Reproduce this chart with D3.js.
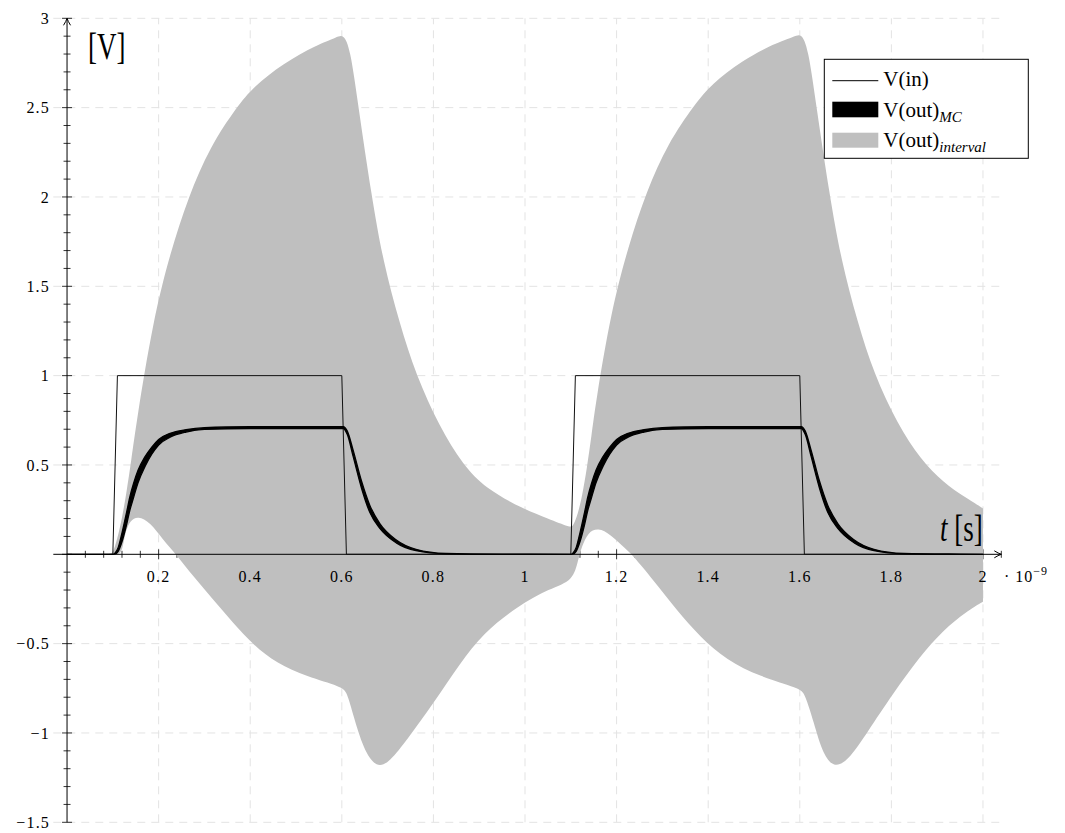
<!DOCTYPE html>
<html>
<head>
<meta charset="utf-8">
<script src="https://cdn.jsdelivr.net/npm/d3@7"></script>
<style>
  body { margin: 0; background: #fff; }
  svg text { font-family: "Liberation Serif", "Times New Roman", serif; fill: #000; }
</style>
</head>
<body>
<div id="chart"></div>
<script>
// Input pulse V(in), time in ns
var vinT = [0, 0.1, 0.11, 0.6, 0.61, 1.1, 1.11, 1.6, 1.61, 2.0];
var vinV = [0, 0, 1, 1, 0, 0, 1, 1, 0, 0];

// Monte Carlo bundle of V(out): lower and upper edge of the black band
var mcT = [0, 0.1, 0.105, 0.112, 0.12, 0.13, 0.137, 0.145, 0.155, 0.17, 0.185, 0.2, 0.225, 0.26, 0.3, 0.4,
  0.603, 0.612, 0.625, 0.643, 0.661, 0.683, 0.719, 0.762, 0.827, 0.95, 1.1,
  1.105, 1.112, 1.12, 1.13, 1.137, 1.145, 1.155, 1.17, 1.185, 1.2, 1.225, 1.26, 1.3, 1.4,
  1.603, 1.612, 1.625, 1.643, 1.661, 1.683, 1.719, 1.762, 1.827, 1.95, 2.0];
var mcHi = [0, 0, 0.008, 0.04, 0.12, 0.235, 0.32, 0.395, 0.47, 0.545, 0.6, 0.643, 0.677, 0.698, 0.709, 0.714,
  0.715, 0.69, 0.58, 0.41, 0.275, 0.172, 0.08, 0.028, 0.005, 0.001, 0,
  0.008, 0.04, 0.12, 0.235, 0.32, 0.395, 0.47, 0.545, 0.6, 0.643, 0.677, 0.698, 0.709, 0.714,
  0.715, 0.69, 0.58, 0.41, 0.275, 0.172, 0.08, 0.028, 0.005, 0.001, 0];
var mcLo = [0, 0, 0.002, 0.018, 0.07, 0.165, 0.245, 0.315, 0.4, 0.49, 0.56, 0.612, 0.655, 0.684, 0.699, 0.704,
  0.704, 0.67, 0.545, 0.37, 0.235, 0.145, 0.064, 0.02, 0.003, 0, 0,
  0.002, 0.018, 0.07, 0.165, 0.245, 0.315, 0.4, 0.49, 0.56, 0.612, 0.655, 0.684, 0.699, 0.704,
  0.704, 0.67, 0.545, 0.37, 0.235, 0.145, 0.064, 0.02, 0.003, 0, 0];

// Interval enclosure of V(out): upper bound
var upT = [0, 0.09, 0.1, 0.11, 0.12, 0.13, 0.14, 0.152, 0.188, 0.225, 0.265, 0.312, 0.371, 0.407, 0.472, 0.545,
  0.59, 0.603, 0.618, 0.636, 0.665, 0.69, 0.726, 0.762, 0.813, 0.864, 0.914, 0.997, 1.05, 1.1,
  1.105, 1.115, 1.125, 1.135, 1.145, 1.155, 1.188, 1.225, 1.265, 1.312, 1.371, 1.407, 1.472, 1.545,
  1.59, 1.603, 1.618, 1.636, 1.665, 1.69, 1.726, 1.762, 1.813, 1.864, 1.914, 1.96, 2.0];
var upV = [0, 0, 0, 0.09, 0.2, 0.35, 0.52, 0.75, 1.31, 1.685, 2.0, 2.28, 2.505, 2.617, 2.748, 2.851,
  2.895, 2.91, 2.84, 2.507, 2.006, 1.64, 1.293, 1.004, 0.715, 0.503, 0.368, 0.253, 0.2, 0.148,
  0.16, 0.22, 0.33, 0.48, 0.66, 0.86, 1.36, 1.72, 2.03, 2.3, 2.52, 2.63, 2.76, 2.86,
  2.9, 2.915, 2.84, 2.51, 2.01, 1.65, 1.3, 1.01, 0.73, 0.53, 0.4, 0.32, 0.257];

// Interval enclosure of V(out): lower bound
var loT = [0, 0.09, 0.1, 0.118, 0.123, 0.128, 0.138, 0.155, 0.181, 0.21, 0.238, 0.276, 0.32, 0.363, 0.407, 0.458,
  0.523, 0.6, 0.611, 0.625, 0.647, 0.676, 0.705, 0.742, 0.8, 0.858, 0.909, 0.982, 1.055, 1.105,
  1.116, 1.124, 1.138, 1.16, 1.186, 1.222, 1.233, 1.28, 1.331, 1.382, 1.44, 1.513, 1.6, 1.611,
  1.63, 1.651, 1.677, 1.71, 1.746, 1.804, 1.862, 1.913, 1.964, 2.0];
var loV = [0, 0, 0, 0, 0.06, 0.13, 0.19, 0.215, 0.18, 0.08, 0, -0.125, -0.256, -0.386, -0.508, -0.61,
  -0.685, -0.741, -0.77, -0.9, -1.09, -1.2, -1.16, -1.039, -0.834, -0.61, -0.442, -0.293, -0.19, -0.15,
  -0.03, 0.043, 0.125, 0.148, 0.112, 0.024, 0, -0.144, -0.312, -0.461, -0.592, -0.685, -0.75, -0.78,
  -0.935, -1.125, -1.2, -1.14, -1.002, -0.778, -0.573, -0.424, -0.321, -0.265];

// Tick values and labels
var xTicks = [0.2, 0.4, 0.6, 0.8, 1, 1.2, 1.4, 1.6, 1.8, 2];
var xTickLabels = ["0.2", "0.4", "0.6", "0.8", "1", "1.2", "1.4", "1.6", "1.8", "2"];
var yTicks = [-1.5, -1, -0.5, 0.5, 1, 1.5, 2, 2.5, 3];
var yTickLabels = ["\u22121.5", "\u22121", "\u22120.5", "0.5", "1", "1.5", "2", "2.5", "3"];
var legendLabels = ["V(in)", "V(out)", "V(out)"];
var legendSubs = ["", "MC", "interval"];

var width = 1065;
var height = 833;

var svg = d3.select("#chart")
  .append("svg")
  .attr("width", width)
  .attr("height", height);

var x = d3.scaleLinear().domain([-0.03, 2.04]).range([53.3, 1001.3]);
var y = d3.scaleLinear().domain([-1.5, 3]).range([822.3, 18.3]);

// grid
var grid = svg.append("g")
  .attr("stroke", "#e3e3e3")
  .attr("stroke-width", 1)
  .attr("stroke-dasharray", "8,6");

grid.selectAll(".vgrid")
  .data(xTicks)
  .enter().append("line")
  .attr("x1", function(d) { return x(d); })
  .attr("x2", function(d) { return x(d); })
  .attr("y1", y(-1.5))
  .attr("y2", y(3));

grid.selectAll(".hgrid")
  .data(yTicks)
  .enter().append("line")
  .attr("x1", x(-0.03))
  .attr("x2", x(2.04))
  .attr("y1", function(d) { return y(d); })
  .attr("y2", function(d) { return y(d); });

// x ticks (drawn under the band, like the original)
var xMinor = d3.range(1, 52).map(function(i) { return i * 0.04; });
svg.append("g")
  .attr("stroke", "#000")
  .attr("stroke-width", 0.8)
  .selectAll("line")
  .data(xMinor)
  .enter().append("line")
  .attr("x1", function(d) { return x(d); })
  .attr("x2", function(d) { return x(d); })
  .attr("y1", function(d, i) { return y(0) - ((i + 1) % 5 === 0 ? 5 : 3.5); })
  .attr("y2", function(d, i) { return y(0) + ((i + 1) % 5 === 0 ? 5 : 3.5); });

// interval band: upper bound forward, lower bound back
var upPts = upT.map(function(t, i) { return [t, upV[i]]; });
var loPts = loT.map(function(t, i) { return [t, loV[i]]; }).reverse();
var bandLine = d3.line()
  .x(function(d) { return x(d[0]); })
  .y(function(d) { return y(d[1]); })
  .curve(d3.curveBasis);

svg.append("path")
  .attr("d", bandLine(upPts) + "L" + bandLine(loPts).slice(1) + "Z")
  .attr("fill", "#bfbfbf")
  .attr("stroke", "none");

// y ticks
var yMinor = d3.range(-15, 31).map(function(i) { return i / 10; });
svg.append("g")
  .attr("stroke", "#000")
  .attr("stroke-width", 0.8)
  .selectAll("line")
  .data(yMinor)
  .enter().append("line")
  .attr("x1", function(d, i) { return x(0) - (i % 5 === 0 ? 5 : 3.5); })
  .attr("x2", function(d, i) { return x(0) + (i % 5 === 0 ? 5 : 3.5); })
  .attr("y1", function(d) { return y(d); })
  .attr("y2", function(d) { return y(d); });

// axis lines with arrows
svg.append("line")
  .attr("x1", x(-0.03)).attr("x2", x(2.04))
  .attr("y1", y(0)).attr("y2", y(0))
  .attr("stroke", "#000").attr("stroke-width", 1);
svg.append("line")
  .attr("x1", x(0)).attr("x2", x(0))
  .attr("y1", y(-1.5)).attr("y2", y(3))
  .attr("stroke", "#000").attr("stroke-width", 1);
svg.append("path")
  .attr("d", "M" + (x(2.04) - 7) + "," + (y(0) - 3.5) + "Q" + (x(2.04) - 3) + "," + (y(0) - 1) + " " + x(2.04) + "," + y(0) +
    "Q" + (x(2.04) - 3) + "," + (y(0) + 1) + " " + (x(2.04) - 7) + "," + (y(0) + 3.5))
  .attr("fill", "none").attr("stroke", "#000").attr("stroke-width", 1);
svg.append("path")
  .attr("d", "M" + (x(0) - 3.5) + "," + (y(3) + 7) + "Q" + (x(0) - 1) + "," + (y(3) + 3) + " " + x(0) + "," + y(3) +
    "Q" + (x(0) + 1) + "," + (y(3) + 3) + " " + (x(0) + 3.5) + "," + (y(3) + 7))
  .attr("fill", "none").attr("stroke", "#000").attr("stroke-width", 1);

// V(in)
var vinLine = d3.line()
  .x(function(d, i) { return x(vinT[i]); })
  .y(function(d) { return y(d); });
svg.append("path")
  .attr("d", vinLine(vinV))
  .attr("fill", "none")
  .attr("stroke", "#111")
  .attr("stroke-width", 1);

// V(out) Monte Carlo band
var mcArea = d3.area()
  .x(function(d, i) { return x(mcT[i]); })
  .y0(function(d, i) { return y(mcLo[i]); })
  .y1(function(d, i) { return y(mcHi[i]); })
  .curve(d3.curveMonotoneX);
svg.append("path")
  .attr("d", mcArea(mcT))
  .attr("fill", "#000")
  .attr("stroke", "#000")
  .attr("stroke-width", 1.3)
  .attr("stroke-linejoin", "round");

// tick labels
svg.append("g")
  .selectAll("text")
  .data(xTicks)
  .enter().append("text")
  .attr("x", function(d) { return x(d); })
  .attr("y", y(0) + 28)
  .attr("text-anchor", "middle")
  .style("font-size", "16px")
  .style("letter-spacing", "1.2px")
  .text(function(d, i) { return xTickLabels[i]; });

svg.append("g")
  .selectAll("text")
  .data(yTicks)
  .enter().append("text")
  .attr("x", x(0) - 17)
  .attr("y", function(d) { return y(d); })
  .attr("dy", "0.35em")
  .attr("text-anchor", "end")
  .style("font-size", "16px")
  .style("letter-spacing", "1.2px")
  .text(function(d, i) { return yTickLabels[i]; });

// scale factor 10^-9
var sci = svg.append("text")
  .attr("x", 1004)
  .attr("y", 582)
  .style("font-size", "16px")
  .style("letter-spacing", "1px");
sci.append("tspan").text("\u00b7 10");
sci.append("tspan").attr("dy", -7).style("font-size", "12px").text("\u22129");

// axis titles
svg.append("g")
  .attr("transform", "translate(88,59) scale(1,1.4)")
  .append("text")
  .style("font-size", "27px")
  .text("[V]");

var tLabel = svg.append("g")
  .attr("transform", "translate(940,541) scale(1,1.4)")
  .append("text")
  .style("font-size", "27px");
tLabel.append("tspan").style("font-style", "italic").text("t");
tLabel.append("tspan").text(" [s]");

// legend
var legend = svg.append("g").attr("transform", "translate(824.3,59.3)");
legend.append("rect")
  .attr("width", 204)
  .attr("height", 99)
  .attr("fill", "#fff")
  .attr("stroke", "#000")
  .attr("stroke-width", 1);

legend.append("line")
  .attr("x1", 8).attr("x2", 54)
  .attr("y1", 21.4).attr("y2", 21.4)
  .attr("stroke", "#000").attr("stroke-width", 1);
legend.append("rect")
  .attr("x", 8).attr("y", 42.4)
  .attr("width", 46).attr("height", 15.6)
  .attr("fill", "#000");
legend.append("rect")
  .attr("x", 8).attr("y", 73.4)
  .attr("width", 46).attr("height", 15)
  .attr("fill", "#bfbfbf");

var rowBase = [27.2, 57.4, 87.4];
legendLabels.forEach(function(lbl, i) {
  var t = legend.append("text")
    .attr("x", 59)
    .attr("y", rowBase[i])
    .style("font-size", "21px");
  t.append("tspan").text(lbl);
  if (legendSubs[i]) {
    t.append("tspan")
      .attr("dy", 5)
      .style("font-size", "15px")
      .style("font-style", "italic")
      .text(legendSubs[i]);
  }
});
</script>
</body>
</html>
